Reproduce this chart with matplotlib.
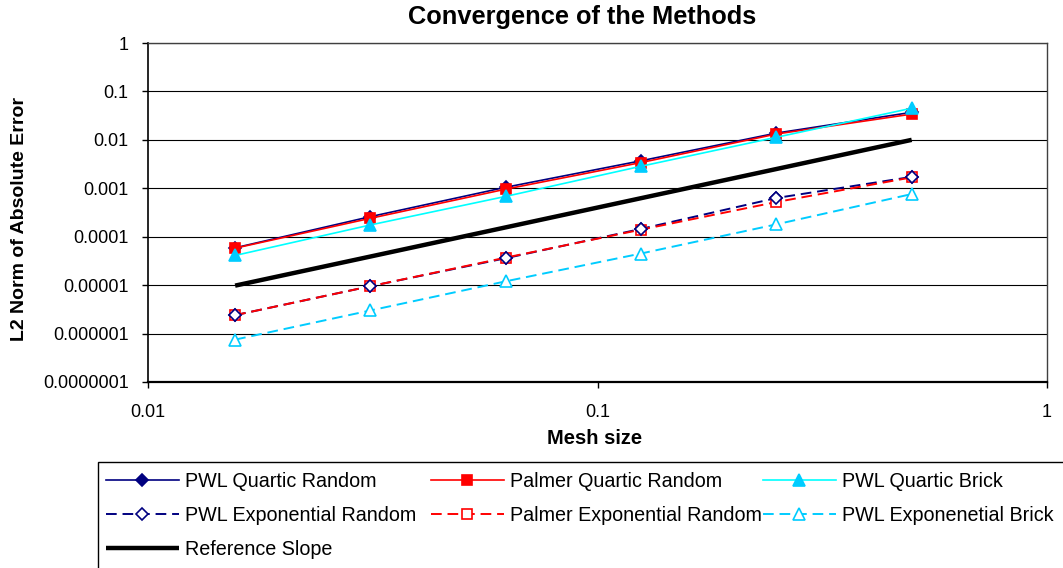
"""Convergence of the L2 error for the PWL and Palmer methods on a log-log plot."""
import matplotlib

matplotlib.use("Agg")
import matplotlib.pyplot as plt
from matplotlib.patches import Rectangle

plt.rcParams["font.family"] = ["Liberation Sans", "DejaVu Sans"]

mesh = [1 / 64, 1 / 32, 1 / 16, 1 / 8, 1 / 4, 1 / 2]

pwl_quartic_random = [5.9e-5, 2.6e-4, 1.05e-3, 3.7e-3, 0.0138, 0.037]
palmer_quartic_random = [5.8e-5, 2.4e-4, 9.6e-4, 3.4e-3, 0.0132, 0.034]
pwl_quartic_brick = [4.1e-5, 1.75e-4, 6.8e-4, 2.85e-3, 0.0113, 0.045]
pwl_exp_random = [2.4e-6, 9.5e-6, 3.6e-5, 1.45e-4, 6.3e-4, 1.72e-3]
palmer_exp_random = [2.4e-6, 9.5e-6, 3.7e-5, 1.4e-4, 5.2e-4, 1.68e-3]
pwl_exp_brick = [7.5e-7, 3.0e-6, 1.2e-5, 4.5e-5, 1.8e-4, 7.6e-4]
reference_slope = [9.77e-6, 3.9e-5, 1.56e-4, 6.25e-4, 2.5e-3, 0.01]

x_ticks = [0.01, 0.1, 1]
x_tick_labels = ["0.01", "0.1", "1"]
y_ticks = [1e-7, 1e-6, 1e-5, 1e-4, 1e-3, 1e-2, 1e-1, 1]
y_tick_labels = ["0.0000001", "0.000001", "0.00001", "0.0001", "0.001", "0.01", "0.1", "1"]

W, H = 1063, 568
fig = plt.figure(figsize=(W / 100, H / 100), dpi=100)
ax = fig.add_axes([148 / W, 1 - 382 / H, 899 / W, 339 / H])
ax.set_xscale("log")
ax.set_yscale("log")

NAVY, RED, CYAN, SKY = "#000080", "#ff0000", "#00ffff", "#00ccff"
dash = (5.5, 3.0)

series = [
    dict(y=pwl_quartic_random, label="PWL Quartic Random", color=NAVY, marker="D",
         ms=6.5, mfc=NAVY, ls="-", z=3),
    dict(y=palmer_quartic_random, label="Palmer Quartic Random", color=RED, marker="s",
         ms=7, mfc=RED, ls="-", z=4),
    dict(y=pwl_quartic_brick, label="PWL Quartic Brick", color=CYAN, marker="^",
         ms=8.5, mfc=SKY, mec=SKY, ls="-", z=5),
    dict(y=pwl_exp_random, label="PWL Exponential Random", color=NAVY, marker="D",
         ms=6, mfc="white", ls="--", z=3.2),
    dict(y=palmer_exp_random, label="Palmer Exponential Random", color=RED, marker="s",
         ms=7.5, mfc="white", ls="--", z=3.5),
    dict(y=pwl_exp_brick, label="PWL Exponenetial Brick", color=SKY, marker="^",
         ms=8.5, mfc="white", ls="--", z=3),
]

handles = []
for s in series:
    dashed = s["ls"] == "--"
    line, = ax.plot(mesh, s["y"], color=s["color"], lw=1.4 if dashed else 1.2,
                    marker=s["marker"], ms=s["ms"], mfc=s["mfc"],
                    mec=s.get("mec", s["color"]), mew=1.2, zorder=s["z"], label=s["label"])
    if dashed:
        line.set_dashes(dash)
    handles.append(line)

# open diamonds sit inside the open squares of the Palmer series
ax.plot(mesh, pwl_exp_random, ls="none", marker="D", ms=6, mfc="white", mec=NAVY,
        mew=1.2, zorder=3.8)

ref, = ax.plot(mesh, reference_slope, color="black", lw=3.2, solid_capstyle="butt",
               zorder=6, label="Reference Slope")
handles.append(ref)

ax.set_xlim(0.01, 1)
ax.set_ylim(1e-7, 1)
ax.set_xticks(x_ticks)
ax.set_xticklabels(x_tick_labels)
ax.set_yticks(y_ticks)
ax.set_yticklabels(y_tick_labels)
ax.minorticks_off()
ax.tick_params(axis="both", labelsize=13, length=4, width=1, direction="out")
ax.tick_params(axis="y", pad=10)
ax.tick_params(axis="x", pad=12)
ax.grid(True, axis="y", color="black", lw=0.8)
ax.set_axisbelow(True)
for side in ["top", "right"]:
    ax.spines[side].set_color("#404040")
    ax.spines[side].set_linewidth(1)
ax.spines["left"].set_linewidth(1.2)
ax.spines["bottom"].set_linewidth(1.6)

fig.text(582 / W, 1 - 17 / H, "Convergence of the Methods", ha="center", va="center",
         fontsize=18.3, fontweight="bold")
fig.text(595 / W, 1 - 439 / H, "Mesh size", ha="center", va="center",
         fontsize=14.5, fontweight="bold")
fig.text(20 / W, 1 - 219 / H, "L2 Norm of Absolute Error", ha="center", va="center",
         rotation=90, fontsize=14, fontweight="bold")

# legend box runs off the lower right corner of the figure
fig.patches.append(Rectangle((98 / W, -0.05), 1.05 - 98 / W, 1 - 462 / H + 0.05,
                             transform=fig.transFigure, fill=False, ec="black", lw=1))

columns = [(106, [handles[0], handles[3], handles[6]]),
           (431, [handles[1], handles[4]]),
           (763, [handles[2], handles[5]])]
for x0, hs in columns:
    fig.legend(handles=hs, labels=[h.get_label() for h in hs], loc="upper left",
               bbox_to_anchor=(x0 / W, 1 - 472 / H), frameon=False, fontsize=14.2,
               handlelength=3.7, handletextpad=0.3, labelspacing=0.77,
               borderpad=0, borderaxespad=0, numpoints=1)

fig.savefig("out.png", dpi=100)
